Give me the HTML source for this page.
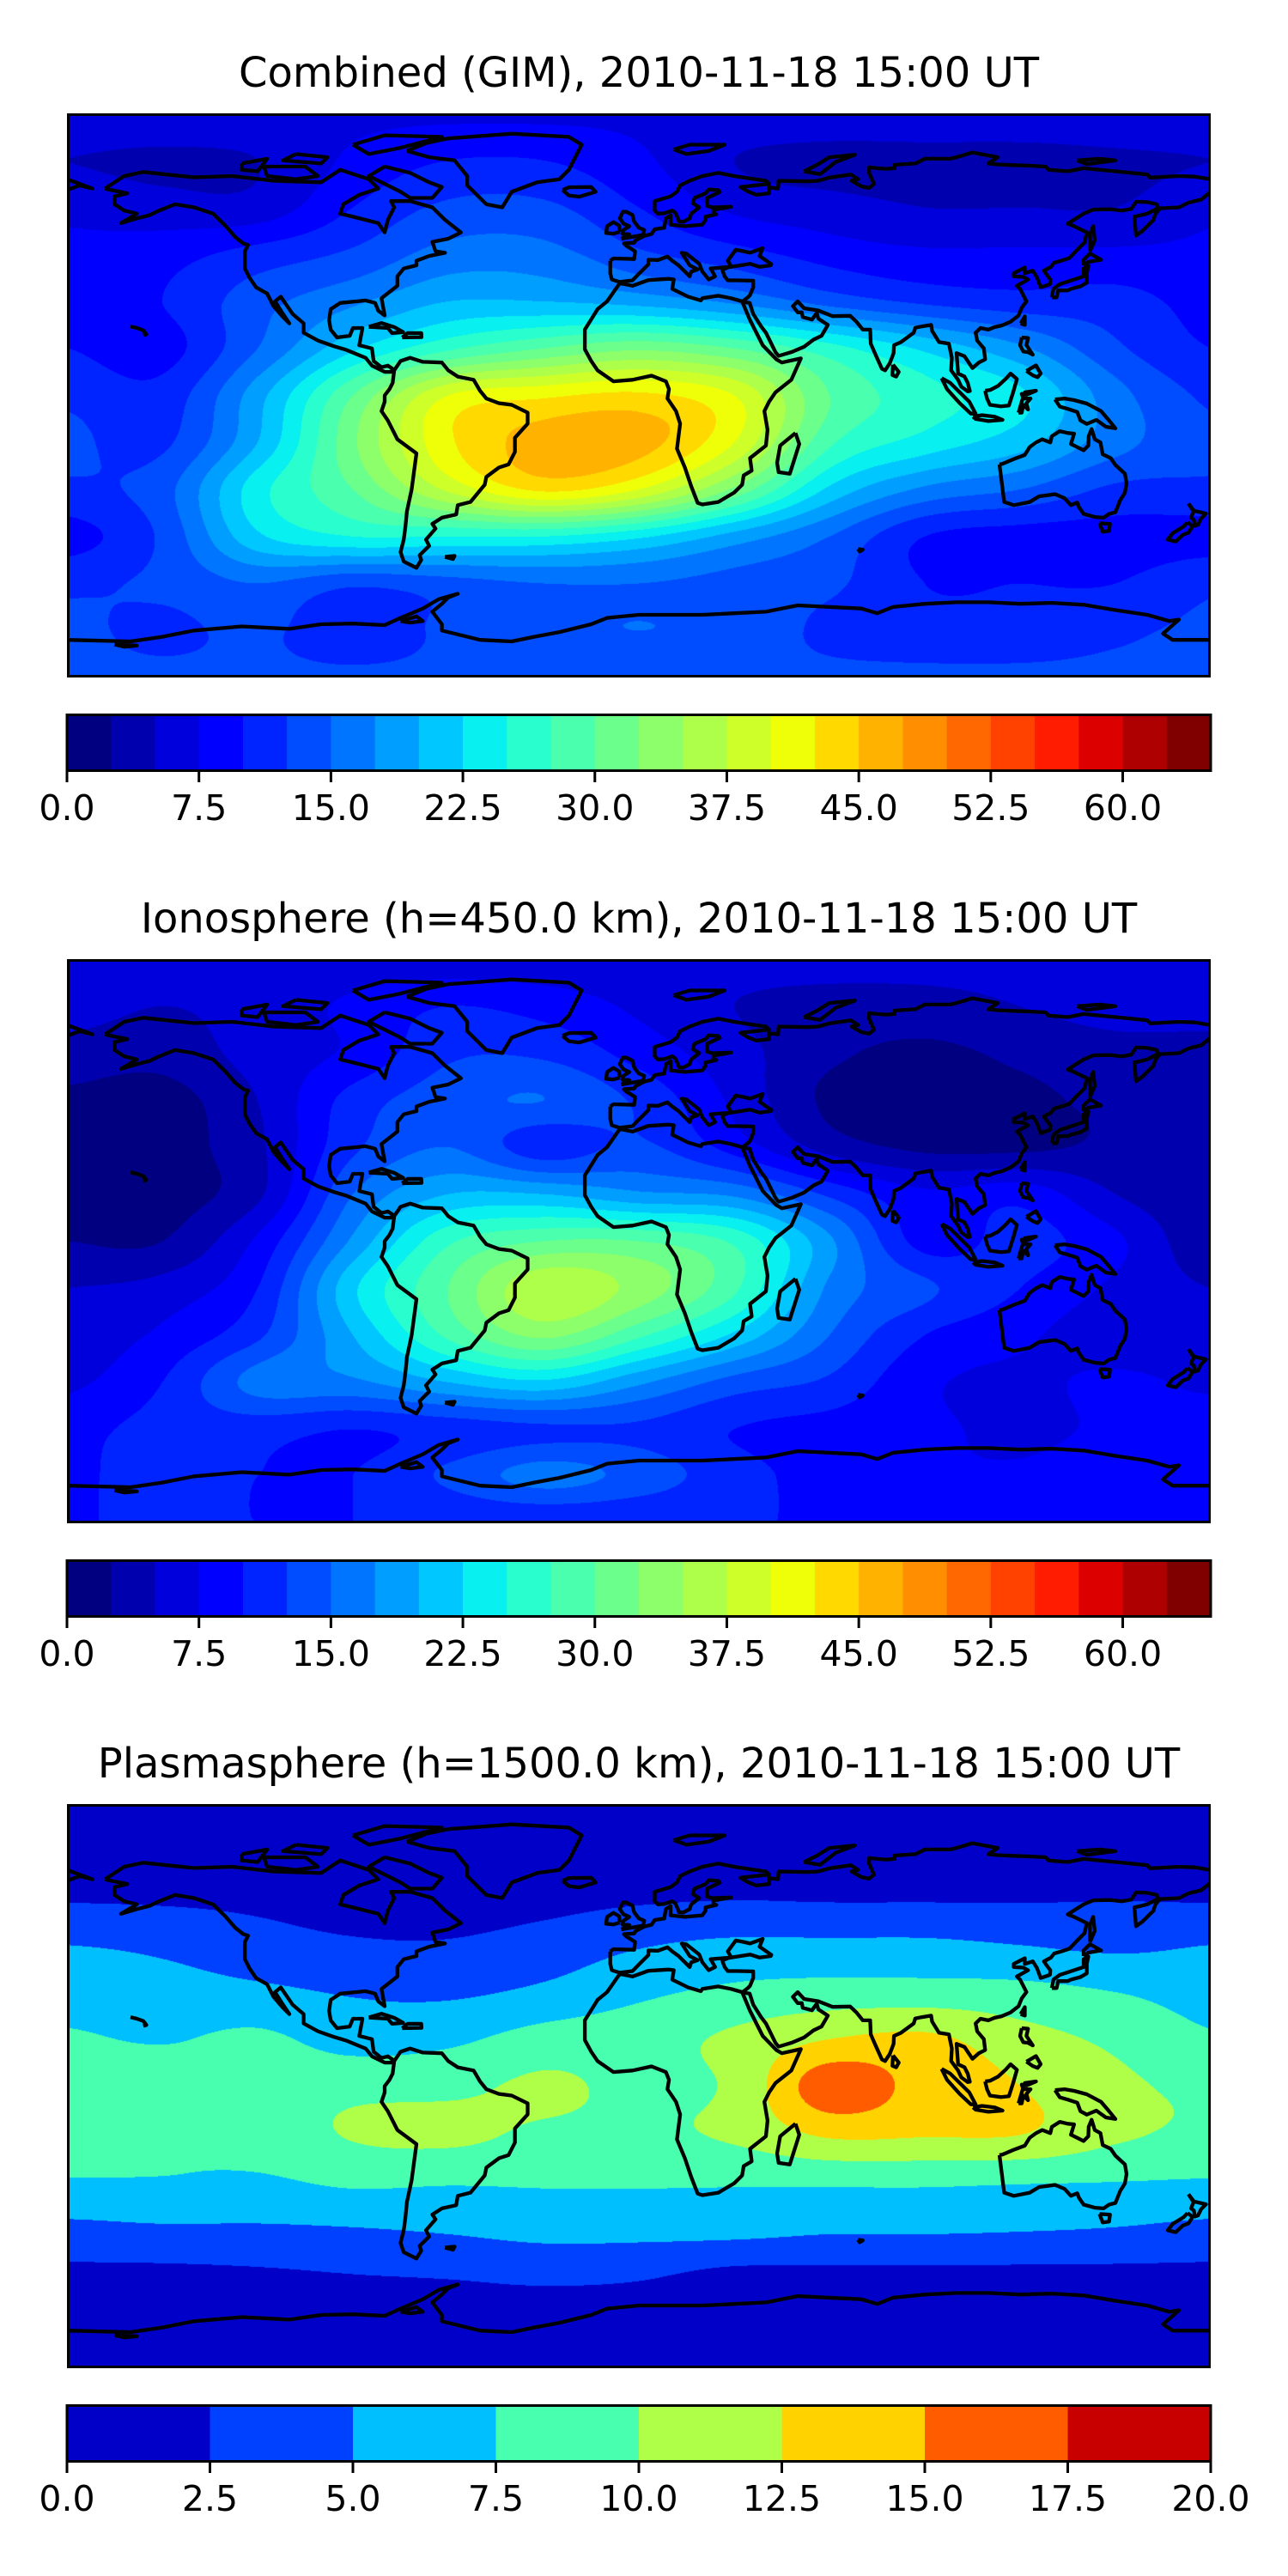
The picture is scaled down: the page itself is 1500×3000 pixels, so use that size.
<!DOCTYPE html>
<html><head><meta charset="utf-8">
<style>
html,body{margin:0;padding:0;background:#fff;}
#root{position:relative;width:1500px;height:3000px;overflow:hidden;background:#fff;font-family:"DejaVu Sans","Liberation Sans",sans-serif;}
.title{position:absolute;left:0;width:1488px;text-align:center;font-size:48px;line-height:1;color:#000;white-space:nowrap;}
.panel{position:absolute;left:78px;width:1332px;height:657px;}
.panel canvas,.panel svg{position:absolute;left:0;top:0;}
.tick{position:absolute;font-size:41px;color:#000;transform:translateX(-50%);white-space:nowrap;line-height:1;}
</style></head>
<body>
<div id="root"></div>
<script>
// ---- data ----
const lats = [90,75,60,45,30,15,0,-15,-30,-45,-60,-75,-90];
const lons = [-180,-150,-120,-90,-60,-30,0,30,60,90,120,150,180];
const fieldCombined = [
[7,7,7,7,7,7,7,7,7,7,7,7,7],
[5,4.5,5,8,10,10,8,5,4,4,4,4.5,5],
[7,6,6,10,13,13,10,7,6,5,5,5,7],
[8,9,11,13,16,16,13,11,9,8,8,8,8],
[9,10,14,17,20,20,19,17,14,12,11,11,9],
[10,9,15,22,27,30,32,30,26,22,18,13,10],
[12,11,19,30,40,42,43,40,30,26,23,16,12],
[13,12,20,32,42,46,46,40,28,24,21,16,13],
[12,14,24,30,38,43,40,32,22,17,15,12,12],
[9,13,22,25,25,25,23,19,15,10,9,9,9],
[12,13,15,13,14,15,15,14,13,10,10,10,12],
[13,12,13,11,13,14,15,14,12,11,11,12,13],
[13,13,13,13,13,13,13,13,13,13,13,13,13]];
const fieldIono = [
[6,6,6,6,6,6,6,6,6,6,6,6,6],
[6,5,6,8,10,9,7,5,4,4,5,6,6],
[4,3.5,6,8,12,12,9,6,3,2,3,4,4],
[2,1.5,5,11,14,15,12,7,2,1.5,2,3,3],
[2,1.5,4.5,12,15,11,13,9,4,2,2,3,3],
[2,1.5,4.5,15,20,20,18,17,12,8,9,5,3],
[2.5,2.5,8,18,27,30,30,27,18,9,11,8,3],
[5,6,10,22,30,37,34,28,17,13,10,7,5],
[6,8,12,20,28,33,28,22,15,10,8,6,6],
[7,10,16,17,20,22,18,14,12,8,7,8,7],
[9,11,11,10,11,12,12,10,9,8,7,8,9],
[9,12,10,10,13,16,14,11,9,8,8,9,9],
[10,10,10,10,10,10,10,10,10,10,10,10,10]];
const fieldPlasma = [
[1,1,1,1,1,1,1,1,1,1,1,1,1],
[1.5,1.5,1.5,1.5,1.5,1.5,1.5,1.5,1.5,1.5,1.5,1.5,1.5],
[2.3,2.2,2,1.5,1.5,1.8,2.2,2.4,2.3,2.3,2.3,2.4,2.3],
[5,4.5,3.5,2.8,2.7,3.5,4.8,5.5,5.5,5.5,5,4.5,5],
[6.5,6,5.5,4.8,4.6,5.5,7,8,8.5,8.5,8.3,7.5,6.5],
[7.8,7.3,8,6.5,7,8.5,9,10.5,12.5,13,11,9.5,7.8],
[9,9,9,9.3,9.4,10.4,9.5,10.5,16.5,14,12.5,10.5,9.5],
[8.5,7.6,8.6,10.2,10.6,9.6,9.5,10.5,13,12.8,12.6,10.5,9.5],
[7.4,7.4,7.2,8,7.8,7.8,7.8,7.8,8,8,7.8,7.6,7.4],
[4.5,4.8,4.8,5,5.4,6,6,6,5.5,5.5,5.3,5,4.5],
[2,2,2.2,2.5,2.7,3,2.8,2,2,2,2,2,2],
[1.5,1.5,1.5,1.5,1.5,1.5,1.5,1.5,1.5,1.5,1.5,1.5,1.5],
[1,1,1,1,1,1,1,1,1,1,1,1,1]];
const levelsA = [0,2.5,5,7.5,10,12.5,15,17.5,20,22.5,25,27.5,30,32.5,35,37.5,40,42.5,45,47.5,50,52.5,55,57.5,60,62.5,65];
const levelsB = [0,2.5,5,7.5,10,12.5,15,17.5,20];
const ticksA = ["0.0","7.5","15.0","22.5","30.0","37.5","45.0","52.5","60.0"];
const ticksAvals = [0,7.5,15,22.5,30,37.5,45,52.5,60];
const ticksB = ["0.0","2.5","5.0","7.5","10.0","12.5","15.0","17.5","20.0"];
const ticksBvals = [0,2.5,5,7.5,10,12.5,15,17.5,20];
const titles = ["Combined (GIM), 2010-11-18 15:00 UT","Ionosphere  (h=450.0 km), 2010-11-18 15:00 UT","Plasmasphere (h=1500.0 km), 2010-11-18 15:00 UT"];

// coastlines [lon,lat]
const coasts = [
[[-168,66],[-162,70],[-156,71.3],[-140,69.6],[-128,70],[-115,68.5],[-100,68],[-94,72],[-85,69],[-82,66],[-88,64],[-93,61],[-94,58],[-90,57],[-82,55],[-80,52],[-79,56],[-77,60],[-78,62],[-72,62],[-65,60],[-61,56],[-56,52],[-60,50],[-65,49],[-64,46],[-61,45.5],[-66,44.5],[-70,43],[-70,41.5],[-74,40.5],[-76,38],[-76,35],[-81,31],[-80,25.5],[-82,27],[-83,29.5],[-86,30.3],[-89,30],[-94,29.5],[-97,27.5],[-97.5,24],[-97,21],[-95,18.5],[-91,19],[-90,21.5],[-87,21.5],[-88,16],[-84,15],[-83.5,11],[-81,9],[-79,9.5],[-77.5,8.5],[-78,7.5],[-80,7.5],[-84,9.5],[-86,12],[-92,14.5],[-96,15.7],[-101,17.5],[-105.5,20],[-105.5,23],[-109,26],[-112.7,31.5],[-114.5,30],[-112,26],[-110,23],[-112,25],[-115,28.5],[-117,32.5],[-120.5,34.5],[-122.5,37.5],[-124,40.5],[-124,46],[-123,48],[-124.5,48.5],[-127,50.5],[-130,54],[-134,58],[-140,60],[-146,61],[-151,59],[-154,57.5],[-158,56.5],[-163,55],[-158,58],[-162,59],[-165,61],[-165,63.5],[-161,64.5],[-166,65.5],[-168,66]],
[[-73,78],[-67,80.5],[-60,82],[-40,83.5],[-22,82.5],[-18,80],[-20,76],[-22,72],[-25,69],[-32,68],[-40,65],[-43,60],[-48,61],[-51,64],[-54,67],[-54,70],[-58,75],[-66,76],[-73,78]],
[[-80,73],[-72,71],[-66,68],[-62,66.5],[-65,63],[-72,63],[-75,65],[-85,70],[-80,73]],
[[-118,73],[-105,73],[-101,70],[-108,69],[-117,70],[-118,73]],
[[-90,80],[-80,83],[-62,82.5],[-75,79],[-85,77],[-90,80]],
[[-108,77],[-98,76],[-100,74],[-112,75],[-108,77]],
[[-125,74],[-117,75.5],[-120,71.5],[-125,72],[-125,74]],
[[-77,8],[-75,11],[-72,12],[-68,10.7],[-62,10.5],[-60,8],[-57,6],[-52,5],[-50,1.5],[-48,-1],[-44,-2.5],[-40,-3],[-35,-5.5],[-35,-9],[-39,-13.5],[-39,-18],[-41,-22],[-44,-23],[-48,-26],[-48.5,-28.5],[-53,-34],[-57,-35],[-57.5,-38],[-62,-39],[-65,-41],[-64,-42.5],[-67,-46],[-66,-48],[-69,-51],[-68.5,-52.5],[-70,-55],[-74,-53],[-75,-50],[-74,-46],[-73.5,-42],[-73,-37],[-71.5,-30],[-70,-18.5],[-76,-14],[-79,-8],[-81,-5],[-80,-2],[-80,0],[-78.5,2],[-77.5,4],[-77,8]],
[[-6,35.8],[-10,30],[-13,27.5],[-17,21],[-17,14.7],[-15,11],[-13,8],[-8,4.5],[-2,5],[4,6.3],[8.5,4.5],[9.5,2],[9,-1],[11.7,-5],[13,-9],[12,-17],[14.5,-23],[16.5,-29],[18.5,-34.3],[20,-34.8],[25,-34],[30,-31],[32.5,-28.5],[33,-25.5],[35.5,-24],[35,-20],[40,-16],[40.5,-11],[39.5,-5],[41,-2],[43,1],[48,5],[51,11.8],[45,10.5],[43.3,11.5],[39,16],[37,20],[35,24],[32.5,30],[29,31],[25,31.8],[20,31],[19.5,30.3],[15.5,31.5],[10.5,34],[11,37],[9.5,37.2],[3,36.8],[-2,35],[-6,35.8]],
[[49.3,-12],[50.5,-15.5],[47.5,-25],[44,-24.5],[43.5,-21.5],[44.5,-16],[49.3,-12]],
[[-9,43],[-9,39],[-8.5,37],[-6,36.2],[-2,36.7],[0,38.8],[3,41.8],[3,43.3],[6,43.2],[9,44.3],[10.5,43],[12.5,41.5],[16,38],[16.5,39.5],[18.5,40.2],[16,41.5],[13.5,45.5],[15,45.2],[19,42],[20,39.5],[22,37],[24,38],[22.6,40.5],[26,40.8],[29,41],[35,42],[38,41],[41.5,41.5],[41.7,41.9],[38,44.5],[39,47],[35,45.5],[33,46],[30.5,46.5],[28,43],[29,41.2],[27,40.4],[26.3,40],[27,38],[28,36.7],[31,36.7],[36,36.6],[36,34.5],[35,32],[34.3,31.3],[32.5,29.9],[34.9,29.5],[36,26],[38.5,22],[40,20],[43,13.8],[44,12.6],[48,13.8],[52,15.5],[55,17.8],[57.5,19],[59.5,22.5],[56.5,24.5],[56,26.3],[54.5,24.2],[51.6,25],[51.3,26.5],[50,26.5],[48.5,28.5],[50,30],[52,27.8],[56.5,27.1],[61,25.3],[66.5,25.4],[68.5,23.5],[70.5,21],[72.8,21],[73,16.5],[74.5,13],[76.5,8.5],[77.5,8],[79,10.3],[80.2,13.5],[80.3,16],[82.5,17],[86.5,20],[87,21.6],[89,22],[92,22.5],[92.3,20.6],[94.5,17],[96,16.8],[97.6,16.5],[98.5,12],[98.3,8],[100.5,5],[101.5,2.8],[103.5,1.3],[104.2,1.4],[103.5,4],[102.5,6],[100.5,7],[100,13.5],[102.5,12.5],[105,8.7],[107,10.5],[109,11.5],[108.6,15],[106.5,17.5],[106,20],[107.5,21.5],[110,21],[112,21.8],[114.2,22.3],[117,23.5],[119.5,25.5],[120.5,28],[122,30],[121,32],[120,34],[119,35],[122.5,37],[121,37.8],[118,38],[118,39],[121.5,40.8],[121.5,39],[124,39.8],[125.3,37.7],[126.5,34.5],[129.4,35.5],[129.5,37],[128.3,38.6],[127.5,39.8],[129.7,41],[130.7,42.3],[133,43],[135.5,43.8],[138,46.5],[140.3,48.8],[141,52],[137,54],[135,54.8],[140,58],[143,59.3],[148.5,59.4],[152,59],[155,59.5],[156.5,61.8],[160,61.7],[163,61],[163.5,59.8],[160,58],[156,57],[156.5,51],[158.5,52.5],[162,56],[162.5,57.8],[164,59.7],[170,60],[173,61.5],[177,62.5],[180,65]],
[[180,69],[175,69.8],[170,70],[161,69.5],[160,70.5],[150,71.5],[140,72.5],[135,71.5],[129,72],[128,73],[123,73.3],[117,73.5],[113,73.7],[110,74],[113,76],[105,77.5],[100,76],[98,75.5],[90,75.5],[87,74],[80.5,73.6],[80.5,72.5],[78,72.3],[75,72.5],[72.5,72.8],[72.5,71],[74,67.5],[72.5,66.2],[70,66.7],[67,68.5],[69,69],[66.7,70.5],[60,69.5],[56.4,68.5],[53,68.3],[44,68.5],[43.8,66],[41,66.4],[41,64.5],[37,64],[34.5,65],[32,66.5],[41,67.5],[40,68.5],[35,69.2],[30,70],[25,71],[20,70],[16,68.5],[13,67],[12,65],[10,63.5],[5,62],[5,59],[6,58],[8,58.1],[10.5,59],[11.5,58.3],[12.5,56],[12.6,55.5],[14,55.4],[16,56.5],[16.5,58],[19,60],[17,61.3],[17.5,63],[21,64.5],[22,65.7],[25,65.5],[25.5,64.9],[21.5,63],[21.5,60.5],[23,60],[29,60.2],[23.5,59.2],[23.5,58],[24.4,57.8],[21,57],[21,56],[20,54.5],[14.5,54],[10,54.5],[10,57.5],[8.5,56.5],[8,53.5],[5,53],[4,51.5],[1.7,50.9],[-1,49.5],[-1.5,48.7],[-4.7,48.5],[-4,47.8],[-1.2,46],[-1.5,43.5],[-8,43.7],[-9,43]],
[[-180,65.5],[-176,67],[-172,66],[-180,69]],
[[-5.5,50],[1.3,51.2],[1.7,52.8],[0,53.5],[-1.5,55.5],[-2,57.6],[-4,58.6],[-5,58.6],[-6,56.5],[-4.8,54.8],[-3,54],[-4.8,52.8],[-5.2,51.6],[-3,51.4],[-5.5,50]],
[[-6,52.2],[-6.2,54.2],[-8,55.3],[-10,54],[-10.3,51.8],[-8,51.6],[-6,52.2]],
[[130,31.3],[131.5,31.3],[132,33.5],[135,33.5],[136,34],[139,34.8],[141,36],[141,39],[141.5,41.4],[140,40.5],[140,38],[137,37],[132.5,35.5],[130.5,34],[130,31.3]],
[[140,41.5],[141.5,42.6],[145.5,43.3],[142,45.3],[140,43.3],[140,41.5]],
[[95.3,5.5],[98,4],[104,-2],[106,-5.8],[104.5,-5.8],[101,-2.5],[97,2],[95.3,5.5]],
[[105.2,-6.8],[108,-6.3],[112,-6.8],[114.5,-7.8],[110,-8.2],[106,-7.5],[105.2,-6.8]],
[[109,1.5],[109.6,-1],[110.5,-3],[114,-3.5],[116.5,-3.2],[117.8,1],[119,5.2],[117,7],[115.5,5.3],[113,3],[110.5,1.7],[109,1.5]],
[[119.5,-5.5],[120.5,-2],[121.5,1],[125,1.5],[122,0.2],[120.5,0.5],[121,-1],[123.3,-1],[122,-2.5],[122.5,-4.5],[121,-3],[120.5,-5.5],[119.5,-5.5]],
[[131,-1.3],[134,-1],[137,-1.5],[141,-2.6],[145.5,-5],[148,-8],[150,-10.5],[147,-10],[144,-7.8],[141,-9.1],[139,-8],[138,-5.3],[135,-4.3],[132.5,-3.6],[131,-1.3]],
[[120.5,18.5],[122.5,18.3],[122,16],[124,13],[122.5,13.8],[121,14],[120,16],[120.5,18.5]],
[[122,7.8],[125,9.6],[126.5,7],[125.5,5.8],[124,6.4],[122,7.8]],
[[120.2,23],[121.5,25.2],[121.5,22.5],[120.2,23]],
[[113.5,-22],[114,-26],[115,-34],[118,-35],[123,-34],[126,-32.2],[131,-31.5],[134,-32.8],[136,-35],[138,-34.2],[138.5,-35.6],[140,-37.8],[143.5,-38.8],[146.3,-39],[148,-37.8],[150,-37.3],[151.5,-33.5],[153,-31],[153.5,-28],[153,-25],[150,-22.2],[148.5,-20],[146,-18.8],[145.3,-15],[143.5,-14],[142.5,-10.7],[141.6,-13],[141.5,-16],[140,-17.5],[136,-15.5],[137,-12.2],[135,-12],[132.5,-11.4],[130,-13],[129.5,-15],[127,-14],[125,-15],[123,-16.5],[121.5,-19],[118,-20.3],[114.5,-21.8],[113.5,-22]],
[[145,-40.8],[148.3,-41],[148,-43.2],[146,-43.5],[145,-40.8]],
[[173,-34.5],[174.7,-36.8],[178.5,-37.7],[177,-39.2],[176,-41.3],[175,-41.6],[174.7,-39.7],[173.8,-39],[174.6,-37],[173,-34.5]],
[[172.7,-40.5],[174.3,-41.7],[173,-43.8],[171.2,-44.5],[169,-46.6],[166.5,-46],[168,-44],[171.5,-41.8],[172.7,-40.5]],
[[-85,21.9],[-81,23.1],[-77,21.8],[-74.2,20.2],[-77.7,19.9],[-79,21.5],[-85,21.9]],
[[-74.5,18.5],[-68.4,18.6],[-68.5,19.9],[-72.8,19.9],[-74.5,18.5]],
[[-160,22],[-158,21.5],[-156,20.8],[-155,19.5],[-156,19.2]],
[[-24,65.5],[-22,66.4],[-15,66.5],[-13.6,65],[-18.7,63.4],[-22,63.8],[-24,65.5]],
[[52,71.5],[56,73.5],[60,76],[68,76.8],[62,74.5],[57,70.6],[52,71.5]],
[[11,78.5],[16,80],[27,80],[22,78],[15,77],[11,78.5]],
[[142,46],[143.5,49.5],[143,54],[142,51.5],[142,46]],
[[138,75],[145,75.5],[150,75],[141,73.8],[138,75]],
[[80,9.8],[81.8,7.5],[81,6],[79.8,6.5],[80,9.8]],
[[-61,-51.5],[-58,-51.2],[-58.5,-52.2],[-61,-51.5]],
[[69,-49],[70.5,-49.2],[69.5,-49.8],[69,-49]],
[[-180,-78],[-160,-78.5],[-150,-77],[-140,-75],[-125,-73.7],[-110,-74.5],[-100,-73],[-90,-72.8],[-80,-73.3],[-75,-71],[-68,-68],[-63,-65],[-57,-63.3],[-60,-64.5],[-62,-66.5],[-65,-69],[-62,-73],[-62,-75],[-50,-78],[-40,-78.5],[-33,-77],[-25,-75.5],[-15,-73],[-10,-71],[0,-70],[10,-70],[20,-70],[30,-69.5],[40,-69],[50,-67],[60,-67.5],[70,-68],[75,-69.5],[80,-67.5],[90,-66.5],[100,-66],[110,-66],[120,-66.5],[130,-66.2],[140,-66.8],[150,-68.5],[160,-70],[167,-72],[170,-71.5],[165,-76],[168,-78],[180,-78]],
[[-165,-79.5],[-158,-79.8],[-162,-80.2],[-165,-79.5]],
[[-75,-72],[-70,-70.5],[-68,-72],[-72,-72.5],[-75,-72]]
];

// ---- rendering ----
const W = 1332, H = 657, X0 = 78, ROW = 984.5;
const root = document.getElementById('root');
const SVGNS = 'http://www.w3.org/2000/svg';

function jet(x){
  function seg(pts){
    for(let i=0;i<pts.length-1;i++){
      const a=pts[i],b=pts[i+1];
      if(x<=b[0]){return a[1]+(b[1]-a[1])*(x-a[0])/(b[0]-a[0]);}
    }
    return pts[pts.length-1][1];
  }
  const r=seg([[0,0],[0.35,0],[0.66,1],[0.89,1],[1,0.5]]);
  const g=seg([[0,0],[0.125,0],[0.375,1],[0.64,1],[0.91,0],[1,0]]);
  const b=seg([[0,0.5],[0.11,1],[0.34,1],[0.65,0],[1,0]]);
  return [Math.round(r*255),Math.round(g*255),Math.round(b*255)];
}
const colorsA = []; for(let i=0;i<26;i++) colorsA.push(jet(i/25));
const colorsB = []; for(let i=0;i<8;i++) colorsB.push(jet((i+0.5)/8));

function cr(p0,p1,p2,p3,t){
  return 0.5*((2*p1)+(-p0+p2)*t+(2*p0-5*p1+4*p2-p3)*t*t+(-p0+3*p1-3*p2+p3)*t*t*t);
}
function sample(field,lon,lat){
  const nr=lats.length,nc=lons.length;
  const fx=(lon-lons[0])/(lons[1]-lons[0]);
  const fy=(lats[0]-lat)/(lats[0]-lats[1]);
  const ix=Math.min(Math.floor(fx),nc-2), iy=Math.min(Math.floor(fy),nr-2);
  const tx=fx-ix, ty=fy-iy;
  const rows=[];
  for(let j=-1;j<=2;j++){
    const r=field[Math.max(0,Math.min(nr-1,iy+j))];
    const c=k=>r[Math.max(0,Math.min(nc-1,ix+k))];
    rows.push(cr(c(-1),c(0),c(1),c(2),tx));
  }
  return cr(rows[0],rows[1],rows[2],rows[3],ty);
}
function xOf(lon){return (lon+180)/360*W;}
function yOf(lat){return (90-lat)/180*H;}

function drawPanel(k,field,levels,colors,ticks,tickVals){
  const top=132+ROW*k;
  const t=document.createElement('div');
  t.className='title';
  t.style.top=(top-71)+'px';
  t.textContent=titles[k];
  
  
  root.appendChild(t);

  const p=document.createElement('div');
  p.className='panel';
  p.style.top=top+'px';
  
  
  root.appendChild(p);
  const cv=document.createElement('canvas');
  cv.width=W;cv.height=H;
  
  
  p.appendChild(cv);
  const ctx=cv.getContext('2d');
  const img=ctx.createImageData(W,H);
  const step=levels[1]-levels[0];
  const nl=colors.length;
  for(let y=0;y<H;y++){
    const lat=90-(y+0.5)/H*180;
    for(let x=0;x<W;x++){
      const lon=(x+0.5)/W*360-180;
      const v=sample(field,lon,lat);
      let idx=Math.floor((v-levels[0])/step);
      idx=Math.max(0,Math.min(nl-1,idx));
      const c=colors[idx], o=(y*W+x)*4;
      img.data[o]=c[0];img.data[o+1]=c[1];img.data[o+2]=c[2];img.data[o+3]=255;
    }
  }
  ctx.putImageData(img,0,0);

  const svg=document.createElementNS(SVGNS,'svg');
  svg.setAttribute('width',W);svg.setAttribute('height',H);
  
  
  p.appendChild(svg);
  coasts.forEach(c=>{
    const pl=document.createElementNS(SVGNS,'polyline');
    pl.setAttribute('points',c.map(q=>xOf(q[0]).toFixed(1)+','+yOf(q[1]).toFixed(1)).join(' '));
    pl.setAttribute('fill','none');pl.setAttribute('stroke','#000');
    pl.setAttribute('stroke-width','4.3');pl.setAttribute('stroke-linejoin','round');
    
    
    svg.appendChild(pl);
  });
  const fr=document.createElementNS(SVGNS,'rect');
  fr.setAttribute('x',1.5);fr.setAttribute('y',1.5);fr.setAttribute('width',W-3);fr.setAttribute('height',H-3);
  fr.setAttribute('fill','none');fr.setAttribute('stroke','#000');fr.setAttribute('stroke-width',3);
  
  
  svg.appendChild(fr);

  // colorbar
  const cbTop=831+ROW*k;
  const cb=document.createElementNS(SVGNS,'svg');
  cb.setAttribute('width',W+4);cb.setAttribute('height',84);
  cb.style.position='absolute';cb.style.left=(X0-2)+'px';cb.style.top=cbTop+'px';
  
  
  root.appendChild(cb);
  const vmin=levels[0],vmax=levels[levels.length-1];
  const cx=v=>2+(v-vmin)/(vmax-vmin)*W;
  for(let i=0;i<nl;i++){
    const r=document.createElementNS(SVGNS,'rect');
    r.setAttribute('x',cx(levels[i]));r.setAttribute('y',0);
    r.setAttribute('width',cx(levels[i+1])-cx(levels[i])+0.6);r.setAttribute('height',67);
    const c=colors[i];
    r.setAttribute('fill','rgb('+c[0]+','+c[1]+','+c[2]+')');
    
    
    cb.appendChild(r);
  }
  const ob=document.createElementNS(SVGNS,'rect');
  ob.setAttribute('x',2);ob.setAttribute('y',1.5);ob.setAttribute('width',W);ob.setAttribute('height',65);
  ob.setAttribute('fill','none');ob.setAttribute('stroke','#000');ob.setAttribute('stroke-width',3);
  
  
  cb.appendChild(ob);
  tickVals.forEach((v,i)=>{
    const ln=document.createElementNS(SVGNS,'line');
    ln.setAttribute('x1',cx(v));ln.setAttribute('x2',cx(v));
    ln.setAttribute('y1',67);ln.setAttribute('y2',80);
    ln.setAttribute('stroke','#000');ln.setAttribute('stroke-width',3);
    
    
    cb.appendChild(ln);
    const lb=document.createElement('div');
    lb.className='tick';
    lb.style.left=(X0-2+cx(v))+'px';
    lb.style.top=(cbTop+90)+'px';
    lb.textContent=ticks[i];
    
    
    root.appendChild(lb);
  });
}
drawPanel(0,fieldCombined,levelsA,colorsA,ticksA,ticksAvals);
drawPanel(1,fieldIono,levelsA,colorsA,ticksA,ticksAvals);
drawPanel(2,fieldPlasma,levelsB,colorsB,ticksB,ticksBvals);
</script>
</body></html>
